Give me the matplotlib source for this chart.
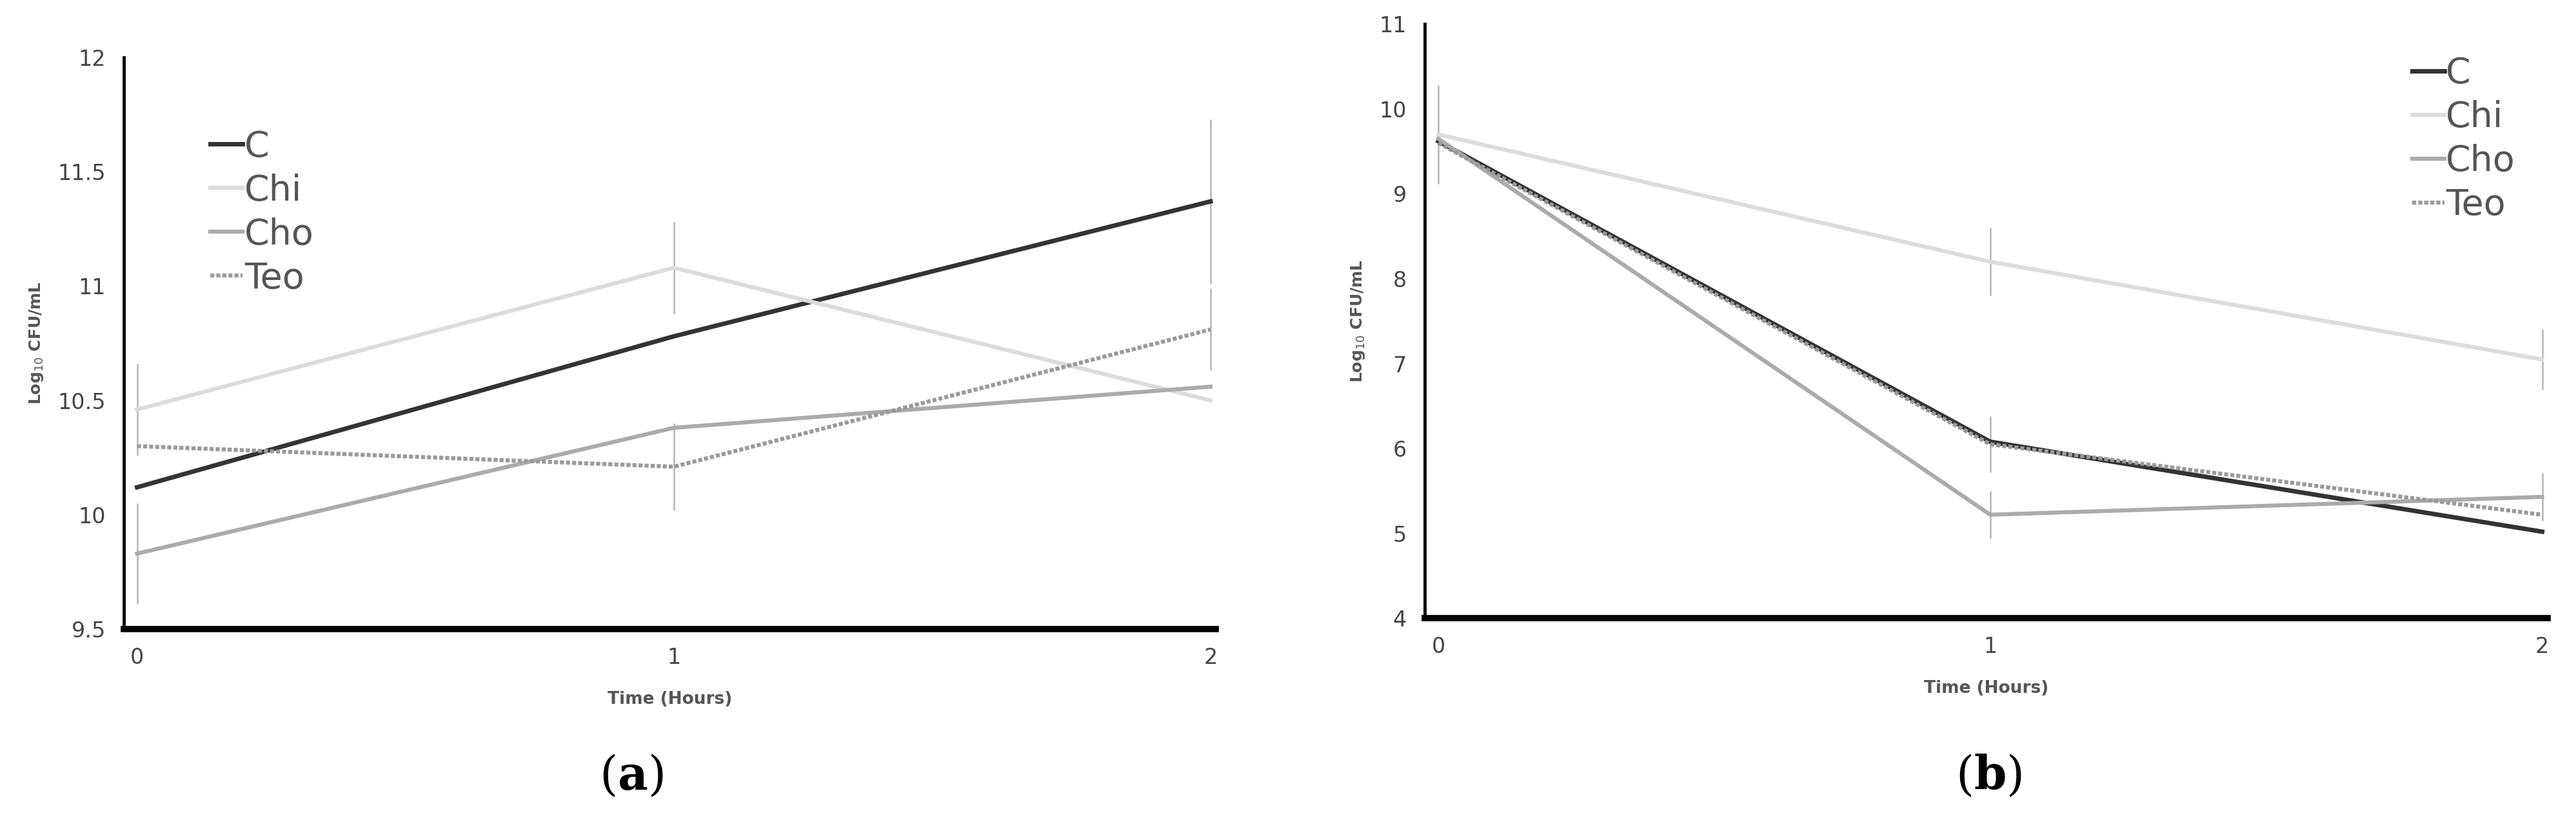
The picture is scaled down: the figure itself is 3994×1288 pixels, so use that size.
import numpy as np
import matplotlib.pyplot as plt

# Data
hours = [0, 1, 2]
series = ["C", "Chi", "Cho", "Teo"]

a_C = [10.12, 10.78, 11.37]
a_Chi = [10.46, 11.08, 10.50]
a_Cho = [9.83, 10.38, 10.56]
a_Teo = [10.30, 10.21, 10.81]
a_err_C = [0.0, 0.0, 0.36]
a_err_Chi = [0.20, 0.20, 0.0]
a_err_Cho = [0.22, 0.0, 0.0]
a_err_Teo = [0.0, 0.19, 0.18]

b_C = [9.62, 6.08, 5.02]
b_Chi = [9.70, 8.20, 7.05]
b_Cho = [9.65, 5.22, 5.43]
b_Teo = [9.60, 6.05, 5.22]
b_err_C = [0.0, 0.0, 0.0]
b_err_Chi = [0.58, 0.40, 0.36]
b_err_Cho = [0.0, 0.28, 0.28]
b_err_Teo = [0.0, 0.33, 0.0]

styles = {
    "C": dict(color="#333333", lw=5.0, ls="-"),
    "Chi": dict(color="#dcdcdc", lw=4.5, ls="-"),
    "Cho": dict(color="#ababab", lw=4.5, ls="-"),
    "Teo": dict(color="#9a9a9a", lw=4.5, ls=(0, (1, 0.5))),
}

fig = plt.figure(figsize=(39.94, 12.88), dpi=100)
ax_a = fig.add_axes([0.048, 0.243, 0.424, 0.688])
ax_b = fig.add_axes([0.553, 0.256, 0.436, 0.715])


def draw(ax, vals, errs, ylim, yticks, legend_loc, bbox):
    for name in series:
        st = styles[name]
        ax.plot(hours, vals[name], label=name, zorder=3, **st)
        e = np.array(errs[name])
        m = e > 0
        ax.errorbar(np.array(hours)[m], np.array(vals[name])[m], yerr=e[m],
                    fmt="none", ecolor="#b5b5b5", elinewidth=1.8, capsize=0,
                    zorder=2)
    ax.set_xlim(-0.025, 2.01)
    ax.set_ylim(*ylim)
    ax.set_xticks(hours)
    ax.set_yticks(yticks)
    ax.set_yticklabels([f"{t:g}" for t in yticks])
    for s in ["top", "right"]:
        ax.spines[s].set_visible(False)
    ax.spines["left"].set_linewidth(3.5)
    ax.spines["bottom"].set_linewidth(7)
    ax.tick_params(length=0, labelsize=24, colors="#444444", pad=20)
    ax.set_xlabel("Time (Hours)", fontsize=19, color="#555555",
                  fontweight="bold", labelpad=25)
    ax.set_ylabel(r"Log$_{10}$ CFU/mL", fontsize=18, color="#555555",
                  fontweight="bold", labelpad=14)
    ax.legend(loc=legend_loc, bbox_to_anchor=bbox, frameon=False,
              fontsize=40, handlelength=0.9, handletextpad=0.05,
              labelspacing=0.25, labelcolor="#555555")


draw(ax_a,
     {"C": a_C, "Chi": a_Chi, "Cho": a_Cho, "Teo": a_Teo},
     {"C": a_err_C, "Chi": a_err_Chi, "Cho": a_err_Cho, "Teo": a_err_Teo},
     (9.5, 12), [9.5, 10, 10.5, 11, 11.5, 12], "upper left", (0.05, 0.93))
draw(ax_b,
     {"C": b_C, "Chi": b_Chi, "Cho": b_Cho, "Teo": b_Teo},
     {"C": b_err_C, "Chi": b_err_Chi, "Cho": b_err_Cho, "Teo": b_err_Teo},
     (4, 11), [4, 5, 6, 7, 8, 9, 10, 11], "upper right", (1.0, 1.0))

fig.text(0.245, 0.05, r"($\mathbf{a}$)", fontsize=52, ha="center",
         family="DejaVu Serif", math_fontfamily="dejavuserif")
fig.text(0.772, 0.05, r"($\mathbf{b}$)", fontsize=52, ha="center",
         family="DejaVu Serif", math_fontfamily="dejavuserif")

fig.savefig("out.png", dpi=100, facecolor="white")
